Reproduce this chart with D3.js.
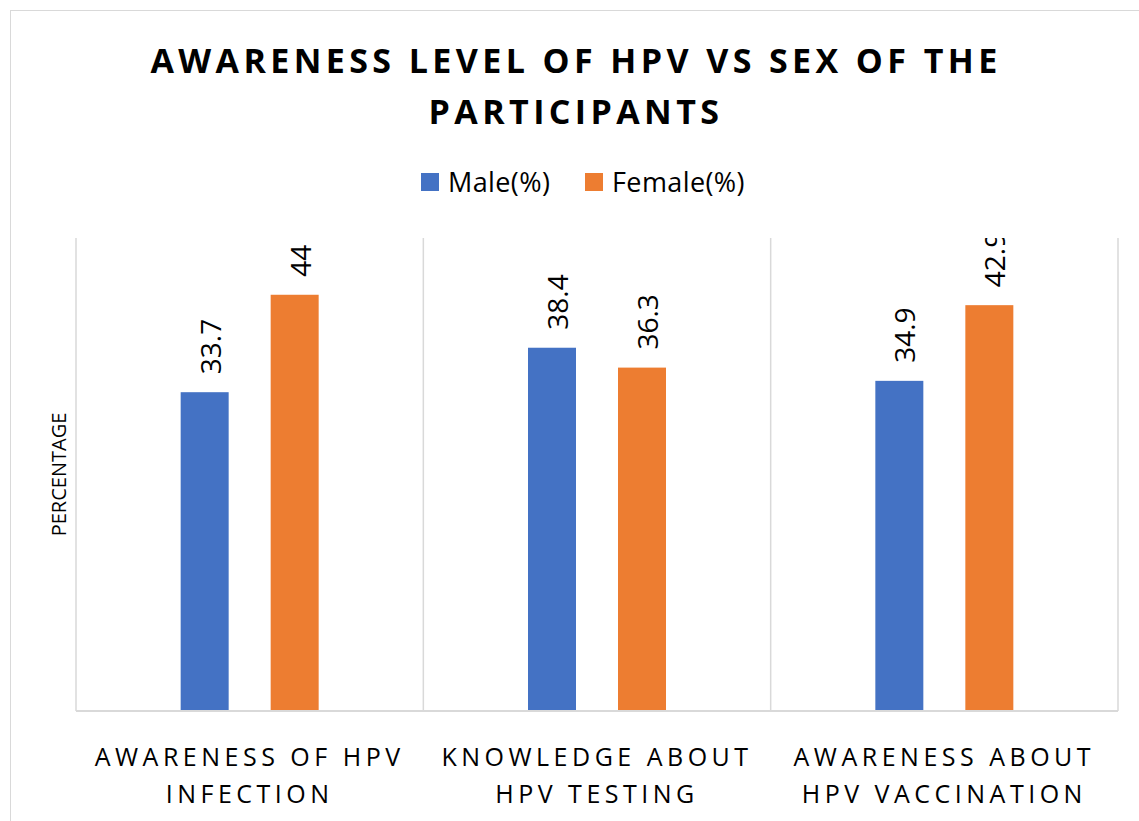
<!DOCTYPE html>
<html>
<head>
<meta charset="utf-8">
<script src="https://cdn.jsdelivr.net/npm/d3@7"></script>
<style>
  body { margin: 0; background: #fff; }
  text { font-family: "Open Sans", "Noto Sans", sans-serif; fill: #000; }
</style>
</head>
<body>
<div id="chart"></div>
<script>
// data
var categories = [
  ["AWARENESS OF HPV", "INFECTION"],
  ["KNOWLEDGE ABOUT", "HPV TESTING"],
  ["AWARENESS ABOUT", "HPV VACCINATION"]
];
var seriesNames = ["Male(%)", "Female(%)"];
var maleValues = [33.7, 38.4, 34.9];
var femaleValues = [44, 36.3, 42.9];
var seriesColors = ["#4472C4", "#ED7D31"];
var titleLines = ["AWARENESS LEVEL OF HPV VS SEX OF THE", "PARTICIPANTS"];

var W = 1139, H = 821;
var margin = {top: 238, right: 21, bottom: 110, left: 76};

var svg = d3.select("#chart").append("svg")
  .attr("width", W)
  .attr("height", H);

// chart border
svg.append("rect")
  .attr("x", 10.5).attr("y", 10.5)
  .attr("width", W + 20).attr("height", H + 20)
  .attr("fill", "#fff")
  .attr("stroke", "#d9d9d9");

// title
svg.append("g").selectAll("text")
  .data(titleLines)
  .join("text")
  .attr("x", 576)
  .attr("y", (d, i) => 73 + i * 51)
  .attr("text-anchor", "middle")
  .style("font-weight", "bold")
  .style("font-size", "34px")
  .style("letter-spacing", "4.4px")
  .text(d => d);

// legend
var legendX = [421, 585];
var legend = svg.append("g").selectAll("g")
  .data(seriesNames)
  .join("g")
  .attr("transform", (d, i) => `translate(${legendX[i]},173)`);
legend.append("rect")
  .attr("width", 18).attr("height", 18)
  .attr("fill", (d, i) => seriesColors[i]);
legend.append("text")
  .attr("x", 27).attr("y", 19)
  .style("font-size", "27px")
  .style("letter-spacing", "0.4px")
  .text(d => d);

var x0 = d3.scaleBand()
  .domain(d3.range(categories.length))
  .range([margin.left, W - margin.right])
  .padding(0);

var x1 = d3.scaleBand()
  .domain(d3.range(seriesNames.length))
  .range([0, x0.bandwidth()])
  .paddingInner(0.4667)
  .paddingOuter(1.163);

var y = d3.scaleLinear()
  .domain([0, 50])
  .range([H - margin.bottom, margin.top]);

// category dividers
var edges = d3.range(categories.length + 1).map(i => i < categories.length ? x0(i) : x0(i - 1) + x0.bandwidth());
svg.append("g").selectAll("line")
  .data(edges)
  .join("line")
  .attr("x1", d => d).attr("x2", d => d)
  .attr("y1", y(50)).attr("y2", y(0))
  .attr("stroke", "#d9d9d9")
  .attr("stroke-width", 1.5);

// rows of values per category
var rows = categories.map((c, i) => [maleValues[i], femaleValues[i]]);

var groups = svg.append("g").selectAll("g")
  .data(rows)
  .join("g")
  .attr("transform", (d, i) => `translate(${x0(i)},0)`);

groups.selectAll("rect")
  .data(d => d)
  .join("rect")
  .attr("x", (d, j) => x1(j))
  .attr("y", d => y(d))
  .attr("width", x1.bandwidth())
  .attr("height", d => y(0) - y(d))
  .attr("fill", (d, j) => seriesColors[j]);

// baseline
svg.append("line")
  .attr("x1", margin.left).attr("x2", W - margin.right)
  .attr("y1", y(0)).attr("y2", y(0))
  .attr("stroke", "#d9d9d9")
  .attr("stroke-width", 2);

// value labels, clipped at top of plot
svg.append("clipPath").attr("id", "plotclip")
  .append("rect")
  .attr("x", 0).attr("y", y(50))
  .attr("width", W).attr("height", H);

var labels = svg.append("g").attr("clip-path", "url(#plotclip)");
rows.forEach(function(r, i) {
  r.forEach(function(v, j) {
    var cx = x0(i) + x1(j) + x1.bandwidth() / 2;
    var cy = y(v) - 18;
    labels.append("text")
      .attr("transform", `translate(${cx + 16},${cy}) rotate(-90)`)
      .style("font-size", "28px")
      .text(v);
  });
});

// y axis title
svg.append("text")
  .attr("transform", `translate(66,${(y(0) + y(50)) / 2}) rotate(-90)`)
  .attr("text-anchor", "middle")
  .style("font-size", "20px")
  .text("PERCENTAGE");

// category labels
var catText = svg.append("g").selectAll("text")
  .data(categories)
  .join("text")
  .attr("text-anchor", "middle")
  .style("font-size", "25px")
  .style("letter-spacing", "4.5px");
catText.selectAll("tspan")
  .data(d => d)
  .join("tspan")
  .attr("x", function() { var i = categories.indexOf(d3.select(this.parentNode).datum()); return x0(i) + x0.bandwidth() / 2; })
  .attr("y", (d, k) => 766 + k * 37)
  .text(d => d);
</script>
</body>
</html>
